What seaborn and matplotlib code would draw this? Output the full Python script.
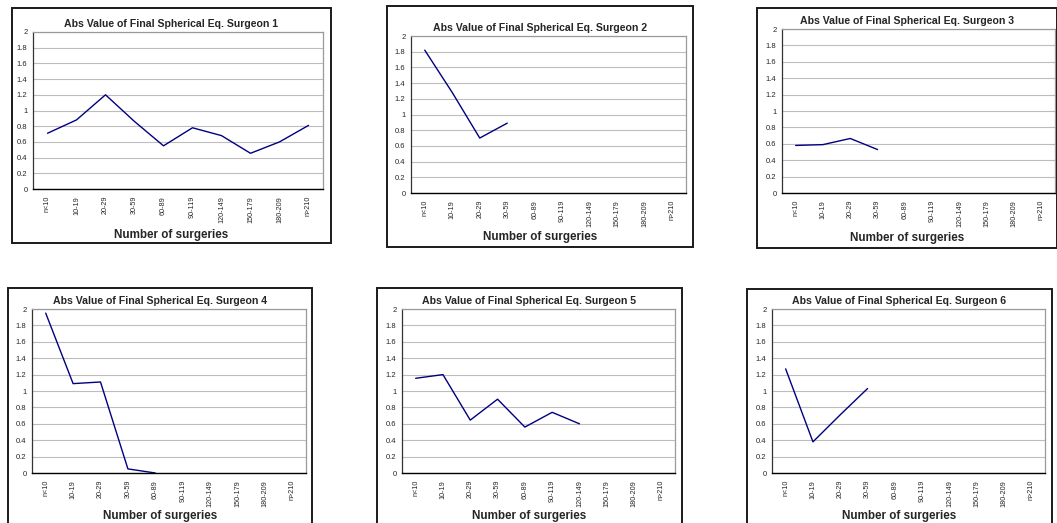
import numpy as np
import matplotlib
matplotlib.use("Agg")
import matplotlib.pyplot as plt
from matplotlib.patches import Rectangle
import seaborn as sns

# Experience bins (number of surgeries performed)
categories = ["n<10", "10-19", "20-29", "30-59", "60-89",
              "90-119", "120-149", "150-179", "180-209", "n>210"]

# Absolute value of final spherical equivalent per bin, one list per surgeon
nan = np.nan
surgeon_1 = [0.71, 0.88, 1.20, 0.86, 0.55, 0.78, 0.68, 0.455, 0.60, 0.81]
surgeon_2 = [1.82, 1.28, 0.70, 0.89, nan, nan, nan, nan, nan, nan]
surgeon_3 = [0.58, 0.59, 0.665, 0.53, nan, nan, nan, nan, nan, nan]
surgeon_4 = [1.95, 1.09, 1.11, 0.05, 0.0, nan, nan, nan, nan, nan]
surgeon_5 = [1.155, 1.20, 0.645, 0.90, 0.56, 0.74, 0.60, nan, nan, nan]
surgeon_6 = [1.27, 0.38, 0.71, 1.03, nan, nan, nan, nan, nan, nan]

titles = ["Abs Value of Final Spherical Eq. Surgeon %d" % i for i in range(1, 7)]
x_label = "Number of surgeries"
y_ticks = [0, 0.2, 0.4, 0.6, 0.8, 1.0, 1.2, 1.4, 1.6, 1.8, 2.0]
y_tick_labels = ["0", "0.2", "0.4", "0.6", "0.8", "1", "1.2", "1.4", "1.6", "1.8", "2"]

series = [surgeon_1, surgeon_2, surgeon_3, surgeon_4, surgeon_5, surgeon_6]

# Pixel boxes (left, top, right, bottom): outer chart frame and inner plot area
frames = [(12, 8, 331, 243), (387, 6, 693, 247), (757, 8, 1057, 248),
          (8, 288, 312, 530), (377, 288, 682, 530), (747, 289, 1052, 530)]
plots = [(33, 32, 323, 189), (411, 36, 686, 193), (782, 29, 1055, 193),
         (32, 309, 306, 473), (402, 309, 675, 473), (772, 309, 1045, 473)]
title_y = [17, 17, 17, 297, 297, 297]
xlabel_y = [235, 237, 238, 516, 516, 516]

sns.set_style("white")
plt.rcParams["font.family"] = ["Liberation Sans", "DejaVu Sans"]

W, H = 1057, 523
fig = plt.figure(figsize=(W / 100, H / 100), dpi=100)
fig.patch.set_facecolor("white")

pos = np.arange(len(categories))
line_color = "#000080"
grid_color = "#bdbdbd"

for vals, title, frame, box, ty, ly in zip(series, titles, frames, plots, title_y, xlabel_y):
    fl, ft, fr, fb = frame
    fig.patches.append(Rectangle((fl / W, 1 - fb / H), (fr - fl) / W, (fb - ft) / H,
                                 transform=fig.transFigure, fill=False,
                                 edgecolor="#1a1a1a", linewidth=1.4, zorder=0))
    pl, pt, pr, pb = box
    ax = fig.add_axes([pl / W, 1 - pb / H, (pr - pl) / W, (pb - pt) / H])
    sns.lineplot(x=pos, y=np.array(vals, dtype=float), ax=ax, color=line_color,
                 linewidth=1.0, estimator=None, sort=False)
    ax.set_xlim(-0.5, len(categories) - 0.5)
    ax.set_ylim(0, 2)

    ax.set_yticks(y_ticks)
    ax.set_yticklabels(y_tick_labels, fontsize=5.5)
    ax.set_xticks(pos)
    ax.set_xticklabels(categories, rotation=90, fontsize=5.2)
    ax.set_xticks(np.arange(-0.5, len(categories), 1.0), minor=True)
    ax.tick_params(axis="x", which="major", length=0, pad=5)
    ax.tick_params(axis="x", which="minor", length=3, width=0.8, direction="out", color="black")
    ax.tick_params(axis="y", length=2.5, width=0.8, direction="out", pad=1.5, color="#333333")

    ax.yaxis.grid(True, color=grid_color, linewidth=0.8)
    ax.xaxis.grid(False)
    ax.set_axisbelow(True)
    for side in ("top", "right"):
        ax.spines[side].set_color("#9a9a9a")
        ax.spines[side].set_linewidth(0.9)
    ax.spines["left"].set_color("#333333")
    ax.spines["left"].set_linewidth(0.9)
    ax.spines["bottom"].set_color("black")
    ax.spines["bottom"].set_linewidth(1.0)
    ax.set_ylabel("")

    ax.set_xlabel(x_label, fontsize=8.4, fontweight="bold")
    cx = (fl + fr) / 2
    ax.xaxis.set_label_coords((cx - pl) / (pr - pl), (pb - ly) / (pb - pt))
    ax.xaxis.label.set_verticalalignment("center")

    ax.set_title(title, fontsize=7.6, fontweight="bold")
    ax.title.set_position(((cx - pl) / (pr - pl), (pb - ty) / (pb - pt)))
    ax.title.set_verticalalignment("center")

fig.savefig("out.png", dpi=100, facecolor="white")
